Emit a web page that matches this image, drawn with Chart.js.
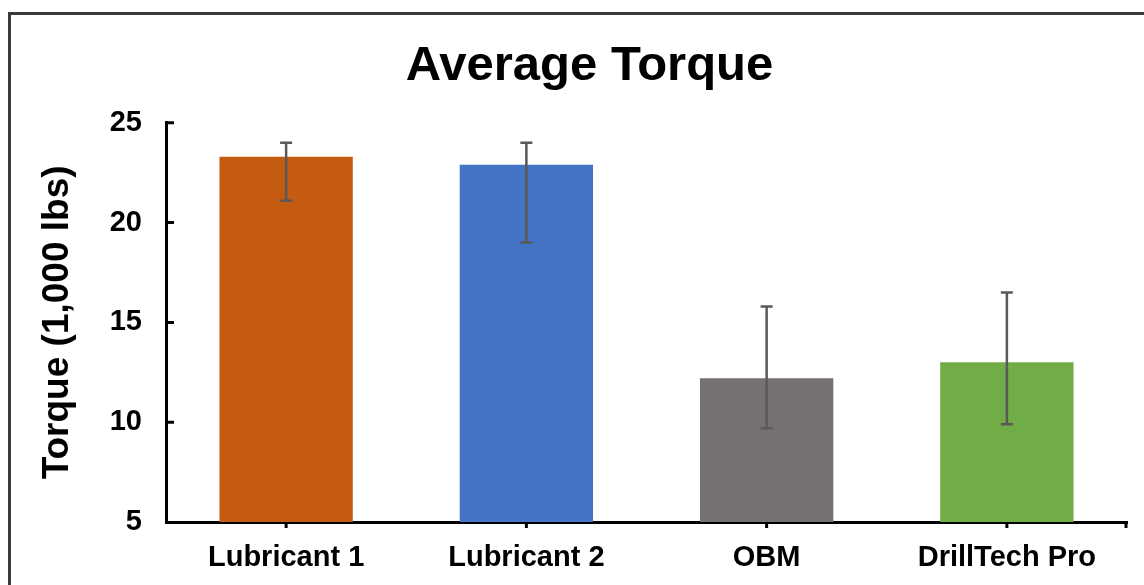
<!DOCTYPE html>
<html>
<head>
<meta charset="utf-8">
<script src="https://cdn.jsdelivr.net/npm/chart.js@4.4.1/dist/chart.umd.min.js"></script>
<style>
  html, body { margin: 0; padding: 0; background: #fff; }
  #wrap { position: relative; width: 1144px; height: 585px; overflow: hidden; }
  #frame { position: absolute; left: 8px; top: 12px; width: 1200px; height: 700px;
           border-left: 3px solid #3a3a3a; border-top: 3px solid #3a3a3a; }
  #torqueChart { position: absolute; left: 0; top: 0; }
</style>
</head>
<body>
<div id="wrap">
  <div id="frame"></div>
  <canvas id="torqueChart" width="1144" height="585"></canvas>
</div>
<script>
const categories = ['Lubricant 1', 'Lubricant 2', 'OBM', 'DrillTech Pro'];
const torqueValues = [23.3, 22.9, 12.2, 13.0];
const errorLow = [21.1, 19.0, 9.7, 9.9];
const errorHigh = [24.0, 24.0, 15.8, 16.5];
const barColors = ['#C55A11', '#4472C4', '#767171', '#70AD47'];
const yTicks = [5, 10, 15, 20, 25];

const fontFamily = "'Liberation Sans', Arial, sans-serif";

// error bars + axis tick marks (Excel style: inside on y, outside on x)
const extrasPlugin = {
  id: 'extras',
  afterDatasetsDraw(chart) {
    const ctx = chart.ctx;
    const yScale = chart.scales.y;
    const meta = chart.getDatasetMeta(0);

    ctx.save();
    ctx.strokeStyle = '#595959';
    ctx.lineWidth = 2.5;
    meta.data.forEach((bar, i) => {
      const x = bar.x;
      const yHi = yScale.getPixelForValue(errorHigh[i]);
      const yLo = yScale.getPixelForValue(errorLow[i]);
      ctx.beginPath();
      ctx.moveTo(x, yHi);
      ctx.lineTo(x, yLo);
      ctx.moveTo(x - 6, yHi);
      ctx.lineTo(x + 6, yHi);
      ctx.moveTo(x - 6, yLo);
      ctx.lineTo(x + 6, yLo);
      ctx.stroke();
    });
    ctx.restore();
  },
  afterDraw(chart) {
    const ctx = chart.ctx;
    const yScale = chart.scales.y;
    const xScale = chart.scales.x;
    const area = chart.chartArea;

    ctx.save();
    ctx.strokeStyle = '#000';
    ctx.lineWidth = 3;
    ctx.beginPath();
    yScale.ticks.forEach(t => {
      if (t.value === yScale.min) return;
      const y = yScale.getPixelForValue(t.value);
      ctx.moveTo(area.left, y);
      ctx.lineTo(area.left + 8, y);
    });
    categories.forEach((c, i) => {
      const x = xScale.getPixelForValue(i);
      ctx.moveTo(x, area.bottom);
      ctx.lineTo(x, area.bottom + 6);
    });
    ctx.moveTo(area.right - 1, area.bottom);
    ctx.lineTo(area.right - 1, area.bottom + 6);
    ctx.stroke();
    ctx.restore();
  }
};

const ctx = document.getElementById('torqueChart').getContext('2d');

const config = {
  type: 'bar',
  data: {
    labels: categories,
    datasets: [{
      data: torqueValues,
      backgroundColor: barColors,
      borderWidth: 0,
      barPercentage: 1.0,
      categoryPercentage: 0.555,
    }],
  },
  plugins: [extrasPlugin],
  options: {
    responsive: false,
    animation: false,
    layout: { padding: { left: 52, right: 17, top: 0, bottom: 0 } },
    plugins: {
      legend: { display: false },
      tooltip: { enabled: false },
      title: {
        display: true,
        text: 'Average Torque',
        color: '#000',
        font: { family: fontFamily, size: 49, weight: 'bold' },
        padding: { top: 37, bottom: 27 },
      },
    },
    scales: {
      x: {
        grid: { display: false, drawTicks: false },
        border: { display: true, color: '#000', width: 3 },
        ticks: {
          color: '#000',
          padding: 19,
          font: { family: fontFamily, size: 29, weight: 'bold' },
        },
        afterFit(scale) { scale.height = 63; },
      },
      y: {
        min: 5,
        max: 25,
        afterBuildTicks(scale) { scale.ticks = yTicks.map(v => ({ value: v })); },
        grid: { display: false, drawTicks: false },
        border: { display: true, color: '#000', width: 3 },
        ticks: {
          color: '#000',
          padding: 24,
          font: { family: fontFamily, size: 29, weight: 'bold' },
        },
        title: {
          display: true,
          text: 'Torque (1,000 lbs)',
          color: '#000',
          font: { family: fontFamily, size: 37, weight: 'bold' },
          padding: { top: -16, bottom: 0 },
        },
        afterFit(scale) { scale.width = 114; },
      },
    },
  },
};

const torqueChart = new Chart(ctx, config);
</script>
</body>
</html>
